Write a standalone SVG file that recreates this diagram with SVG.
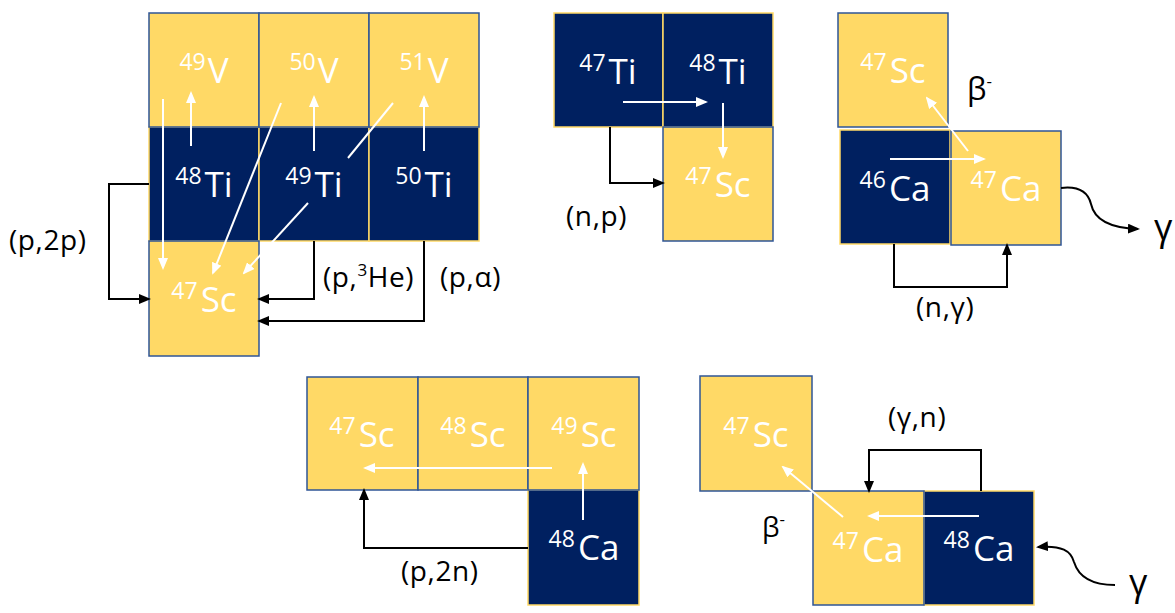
<svg xmlns="http://www.w3.org/2000/svg" width="1175" height="613" viewBox="0 0 1175 613">
  <defs>
    <style>
      .y { fill: #FFD966; stroke: #2F5597; stroke-width: 1.5; }
      .n { fill: #002060; stroke: #FFD966; stroke-width: 1.5; }
      .el { font-family: "Open Sans", "Liberation Sans", sans-serif; font-size: 35px; fill: #ffffff; text-anchor: middle; }
      .sup { font-size: 23px; }
      .lbl { font-family: "Open Sans", "Liberation Sans", sans-serif; font-size: 28px; letter-spacing: 0.6px; fill: #000000; }
      .gr { font-family: "Open Sans", "Liberation Sans", sans-serif; fill: #000000; }
      .lsup { font-size: 17px; }
      .w { fill: none; stroke: #ffffff; stroke-width: 2; }
      .wa { fill: none; stroke: #ffffff; stroke-width: 2; marker-end: url(#hw); }
      .b { fill: none; stroke: #000000; stroke-width: 2; marker-end: url(#hb); }
    </style>
    <marker id="hw" viewBox="0 0 12 10" refX="10" refY="5" markerWidth="12" markerHeight="10" markerUnits="userSpaceOnUse" orient="auto">
      <path d="M0,0 L12,5 L0,10 z" fill="#ffffff"/>
    </marker>
    <marker id="hb" viewBox="0 0 12 10" refX="10" refY="5" markerWidth="12" markerHeight="10" markerUnits="userSpaceOnUse" orient="auto">
      <path d="M0,0 L12,5 L0,10 z" fill="#000000"/>
    </marker>
  </defs>

  <!-- Panel 1: Ti targets to 47Sc -->
  <g id="ti48-a"><rect class="n" x="149" y="127" width="110" height="114"/><text class="el" x="204" y="197"><tspan class="sup" dy="-13">48</tspan><tspan dx="3" dy="13">Ti</tspan></text></g>
  <g id="ti49-a"><rect class="n" x="259" y="127" width="110" height="114"/><text class="el" x="314" y="197"><tspan class="sup" dy="-13">49</tspan><tspan dx="3" dy="13">Ti</tspan></text></g>
  <g id="ti50-a"><rect class="n" x="369" y="127" width="110" height="114"/><text class="el" x="424" y="197"><tspan class="sup" dy="-13">50</tspan><tspan dx="3" dy="13">Ti</tspan></text></g>
  <g id="v49"><rect class="y" x="149" y="13" width="110" height="114"/><text class="el" x="204" y="83"><tspan class="sup" dy="-13">49</tspan><tspan dx="2" dy="13">V</tspan></text></g>
  <g id="v50"><rect class="y" x="259" y="13" width="110" height="114"/><text class="el" x="314" y="83"><tspan class="sup" dy="-13">50</tspan><tspan dx="2" dy="13">V</tspan></text></g>
  <g id="v51"><rect class="y" x="369" y="13" width="110" height="114"/><text class="el" x="424" y="83"><tspan class="sup" dy="-13">51</tspan><tspan dx="2" dy="13">V</tspan></text></g>
  <g id="sc47-a"><rect class="y" x="149" y="241" width="110" height="115"/><text class="el" x="204" y="312"><tspan class="sup" dy="-13">47</tspan><tspan dx="3" dy="13">Sc</tspan></text></g>

  <!-- Panel 2: (n,p) -->
  <g id="ti47-b"><rect class="n" x="554" y="13" width="109" height="114"/><text class="el" x="608" y="84"><tspan class="sup" dy="-13">47</tspan><tspan dx="3" dy="13">Ti</tspan></text></g>
  <g id="ti48-b"><rect class="n" x="663" y="13" width="110" height="114"/><text class="el" x="718" y="84"><tspan class="sup" dy="-13">48</tspan><tspan dx="3" dy="13">Ti</tspan></text></g>
  <g id="sc47-b"><rect class="y" x="663" y="127" width="110" height="114"/><text class="el" x="718" y="197"><tspan class="sup" dy="-13">47</tspan><tspan dx="3" dy="13">Sc</tspan></text></g>

  <!-- Panel 3: (n,gamma) then beta decay -->
  <g id="sc47-c"><rect class="y" x="838" y="13" width="110" height="114"/><text class="el" x="893" y="83"><tspan class="sup" dy="-13">47</tspan><tspan dx="3" dy="13">Sc</tspan></text></g>
  <g id="ca46-c"><rect class="n" x="840" y="130" width="110" height="114"/><text class="el" x="895" y="201"><tspan class="sup" dy="-13">46</tspan><tspan dx="3" dy="13">Ca</tspan></text></g>
  <g id="ca47-c"><rect class="y" x="951" y="131" width="110" height="114"/><text class="el" x="1006" y="201"><tspan class="sup" dy="-13">47</tspan><tspan dx="3" dy="13">Ca</tspan></text></g>

  <!-- Panel 4: (p,2n) -->
  <g id="sc47-d"><rect class="y" x="307" y="377" width="111" height="113"/><text class="el" x="362" y="447"><tspan class="sup" dy="-13">47</tspan><tspan dx="3" dy="13">Sc</tspan></text></g>
  <g id="sc48-d"><rect class="y" x="418" y="377" width="110" height="113"/><text class="el" x="473" y="447"><tspan class="sup" dy="-13">48</tspan><tspan dx="3" dy="13">Sc</tspan></text></g>
  <g id="ca48-d"><rect class="n" x="528" y="490" width="111" height="115"/><text class="el" x="584" y="560"><tspan class="sup" dy="-13">48</tspan><tspan dx="3" dy="13">Ca</tspan></text></g>
  <g id="sc49-d"><rect class="y" x="528" y="377" width="111" height="113"/><text class="el" x="584" y="447"><tspan class="sup" dy="-13">49</tspan><tspan dx="3" dy="13">Sc</tspan></text></g>

  <!-- Panel 5: (gamma,n) then beta decay -->
  <g id="sc47-e"><rect class="y" x="700" y="376" width="112" height="115"/><text class="el" x="756" y="447"><tspan class="sup" dy="-13">47</tspan><tspan dx="3" dy="13">Sc</tspan></text></g>
  <g id="ca48-e"><rect class="n" x="924" y="491" width="110" height="114"/><text class="el" x="979" y="561"><tspan class="sup" dy="-13">48</tspan><tspan dx="3" dy="13">Ca</tspan></text></g>
  <g id="ca47-e"><rect class="y" x="813" y="491" width="111" height="114"/><text class="el" x="868" y="562"><tspan class="sup" dy="-13">47</tspan><tspan dx="3" dy="13">Ca</tspan></text></g>

  <g id="connectors">
    <!-- panel 1 -->
    <line class="wa" x1="191" y1="146" x2="191" y2="93"/>
    <line class="wa" x1="314" y1="151" x2="314" y2="97"/>
    <line class="wa" x1="424" y1="151" x2="424" y2="97"/>
    <line class="wa" x1="163" y1="99" x2="163" y2="268"/>
    <line class="wa" x1="281" y1="103" x2="213" y2="273"/>
    <line class="w" x1="393" y1="103" x2="348" y2="158"/>
    <line class="wa" x1="308" y1="203" x2="244" y2="273"/>
    <polyline class="b" points="149,184 109,184 109,299 149,299"/>
    <polyline class="b" points="314,241 314,299 259,299"/>
    <polyline class="b" points="424,241 424,321 259,321"/>
    <!-- panel 2 -->
    <line class="wa" x1="623" y1="102" x2="706" y2="102"/>
    <line class="wa" x1="723" y1="103" x2="723" y2="157"/>
    <polyline class="b" points="610,127 610,183 663,183"/>
    <!-- panel 3 -->
    <line class="wa" x1="890" y1="159" x2="984" y2="159"/>
    <line class="wa" x1="968" y1="151" x2="927" y2="98"/>
    <polyline class="b" points="894,244 894,287 1007,287 1007,245"/>
    <path class="b" d="M1061,188 C1078,186 1088,192 1091,204 C1094,218 1108,228 1138,229"/>
    <!-- panel 4 -->
    <line class="wa" x1="552" y1="468" x2="365" y2="468"/>
    <line class="wa" x1="583" y1="520" x2="583" y2="464"/>
    <polyline class="b" points="528,548 364,548 364,490"/>
    <!-- panel 5 -->
    <line class="wa" x1="979" y1="516" x2="869" y2="516"/>
    <line class="wa" x1="843" y1="517" x2="783" y2="467"/>
    <polyline class="b" points="981,491 981,450 869,450 869,491"/>
    <path class="b" d="M1115,585 C1090,585 1078,575 1074,562 C1071,551 1062,545 1038,547"/>
  </g>

  <!-- reaction labels -->
  <text class="lbl" x="9" y="250">(p,2p)</text>
  <text class="lbl" x="323" y="287">(p,<tspan class="lsup" dy="-11">3</tspan><tspan dy="11">He)</tspan></text>
  <text class="lbl" x="440" y="287">(p,α)</text>
  <text class="lbl" x="566" y="226" font-size="30">(n,p)</text>
  <text class="lbl" x="916" y="317">(n,γ)</text>
  <text class="lbl" x="401" y="581">(p,2n)</text>
  <text class="lbl" x="888" y="427">(γ,n)</text>
  <text class="gr" x="967" y="100" font-size="31">β<tspan class="lsup" dy="-13">-</tspan></text>
  <text class="gr" x="762" y="537" font-size="28">β<tspan class="lsup" dy="-12">-</tspan></text>
  <text class="gr" x="1154" y="240" font-size="36">γ</text>
  <text class="gr" x="1129" y="595" font-size="36">γ</text>
</svg>
